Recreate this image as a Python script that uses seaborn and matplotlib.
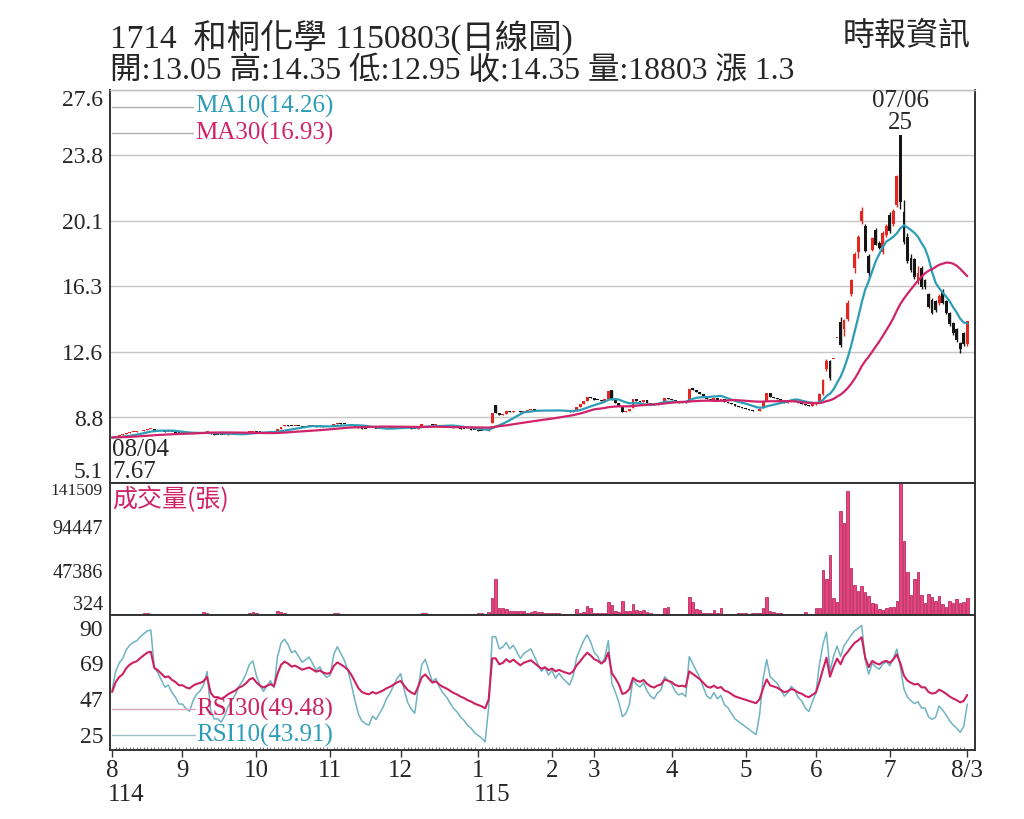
import numpy as np
import pandas as pd
import seaborn as sns
import matplotlib.pyplot as plt
import matplotlib.transforms as mtransforms

sns.set_theme(style="white")
plt.rcParams['font.family'] = ['Liberation Serif', 'Noto Sans CJK TC', 'DejaVu Sans']
plt.rcParams['axes.unicode_minus'] = False

# trading days per month, 2025/08/04 .. 2026/08/03 (ROC 114 / 115)
month_labels = ['8', '9', '10', '11', '12', '1', '2', '3', '4', '5', '6', '7', '8/3']
month_days = [20, 21, 21, 20, 22, 21, 12, 22, 21, 20, 21, 22, 1]
year_labels = {0: '114', 5: '115'}

# closes before 08/04, not drawn, only used to warm up MA / RSI
close_warmup = [7.70, 7.66, 7.70, 7.73, 7.69, 7.72, 7.68, 7.71, 7.74, 7.70,
                7.72, 7.75, 7.71, 7.68, 7.72, 7.70, 7.74, 7.70, 7.72, 7.68,
                7.71, 7.74, 7.70, 7.72, 7.69, 7.73, 7.70, 7.72, 7.68, 7.70]

# daily open / close
open_aug = [7.70, 7.73, 7.80, 7.86, 7.88, 7.95, 8.00, 8.03, 8.05, 8.10,
            8.15, 8.20, 8.20, 8.10, 8.08, 8.05, 8.02, 8.03, 8.00, 7.98]
close_aug = [7.72, 7.80, 7.85, 7.88, 7.95, 8.00, 8.03, 8.05, 8.10, 8.15,
             8.20, 8.22, 8.10, 8.08, 8.05, 8.02, 8.03, 8.00, 7.98, 7.95]
open_sep = [7.95, 7.95, 7.93, 7.92, 7.95, 7.97, 7.98, 8.00, 8.03, 7.90,
            7.86, 7.85, 7.83, 7.85, 7.88, 7.90, 7.92, 7.95, 7.97, 8.00, 8.03]
close_sep = [7.95, 7.93, 7.92, 7.95, 7.97, 7.98, 8.00, 8.05, 7.90, 7.85,
             7.85, 7.83, 7.85, 7.88, 7.90, 7.92, 7.95, 7.97, 8.00, 8.05, 8.07]
open_oct = [8.07, 8.03, 8.00, 7.98, 8.00, 8.02, 8.02, 8.20, 8.35, 8.40,
            8.38, 8.35, 8.37, 8.35, 8.33, 8.35, 8.37, 8.35, 8.33, 8.35, 8.33]
close_oct = [8.03, 8.00, 7.98, 8.00, 8.02, 8.00, 8.17, 8.33, 8.40, 8.38,
             8.35, 8.37, 8.35, 8.33, 8.35, 8.37, 8.35, 8.33, 8.35, 8.33, 8.32]
open_nov = [8.32, 8.35, 8.45, 8.52, 8.50, 8.48, 8.45, 8.40, 8.33, 8.25,
            8.20, 8.18, 8.17, 8.20, 8.18, 8.20, 8.22, 8.25, 8.27, 8.30]
close_nov = [8.33, 8.45, 8.52, 8.50, 8.48, 8.45, 8.40, 8.33, 8.25, 8.20,
             8.18, 8.17, 8.20, 8.18, 8.20, 8.22, 8.25, 8.27, 8.30, 8.33]
open_dec = [8.33, 8.35, 8.30, 8.25, 8.22, 8.20, 8.32, 8.45, 8.50, 8.45,
            8.40, 8.42, 8.38, 8.35, 8.33, 8.30, 8.27, 8.25, 8.22, 8.20, 8.17, 8.15]
close_dec = [8.35, 8.30, 8.25, 8.22, 8.20, 8.30, 8.45, 8.50, 8.45, 8.40,
             8.42, 8.38, 8.35, 8.33, 8.30, 8.27, 8.25, 8.22, 8.20, 8.17, 8.15, 8.12]
open_jan = [8.12, 8.10, 8.08, 8.05, 8.55, 9.55, 9.10, 9.00, 9.05, 9.20,
            9.15, 9.25, 9.20, 9.15, 9.25, 9.30, 9.35, 9.30, 9.25, 9.20, 9.25]
close_jan = [8.10, 8.08, 8.05, 8.15, 9.10, 9.10, 9.00, 9.05, 9.20, 9.15,
             9.25, 9.20, 9.15, 9.25, 9.30, 9.35, 9.30, 9.25, 9.20, 9.25, 9.20]
open_feb = [9.20, 9.25, 9.20, 9.25, 9.22, 9.20, 9.18, 9.25, 9.45, 9.60, 9.80, 10.00]
close_feb = [9.25, 9.20, 9.25, 9.22, 9.20, 9.18, 9.25, 9.45, 9.60, 9.80, 10.00, 9.95]
open_mar = [9.95, 9.88, 9.85, 9.80, 9.92, 10.45, 9.85, 9.70, 9.50, 9.15,
            9.20, 9.40, 9.90, 9.80, 9.75, 9.85, 9.70, 9.60, 9.55, 9.65, 9.72, 9.95]
close_mar = [9.88, 9.85, 9.80, 9.90, 10.35, 9.85, 9.70, 9.50, 9.15, 9.20,
             9.35, 9.90, 9.80, 9.75, 9.85, 9.70, 9.60, 9.55, 9.65, 9.70, 9.95, 9.90]
open_apr = [9.90, 9.85, 9.75, 9.70, 9.72, 9.75, 10.55, 10.40, 10.30, 10.20,
            10.05, 9.90, 9.85, 9.95, 9.85, 9.90, 9.75, 9.70, 9.60, 9.50, 9.45]
close_apr = [9.85, 9.75, 9.70, 9.72, 9.68, 10.50, 10.40, 10.30, 10.20, 10.05,
             9.90, 9.85, 9.95, 9.85, 9.90, 9.75, 9.70, 9.60, 9.50, 9.45, 9.40]
open_may = [9.40, 9.35, 9.30, 9.25, 9.20, 9.40, 9.80, 10.25, 10.00, 9.95,
            9.90, 9.80, 9.70, 9.75, 9.85, 9.80, 9.70, 9.65, 9.55, 9.50]
close_may = [9.35, 9.30, 9.25, 9.20, 9.35, 9.80, 10.25, 10.00, 9.95, 9.90,
             9.80, 9.70, 9.75, 9.85, 9.80, 9.70, 9.65, 9.55, 9.50, 9.60]
open_jun = [9.60, 9.80, 10.20, 11.60, 12.10, 12.20, 13.40, 14.30, 13.90, 14.50,
            15.90, 17.40, 18.30, 20.10, 19.80, 18.10, 18.45, 19.60, 18.85, 18.30, 19.30]
close_jun = [9.70, 10.20, 11.00, 12.10, 11.10, 12.20, 13.40, 13.00, 14.45, 15.40,
             16.70, 18.20, 19.20, 20.70, 18.40, 17.10, 19.10, 18.75, 18.55, 19.40, 19.80]
open_jul = [20.45, 19.90, 21.00, 25.00, 20.60, 19.20, 18.00, 17.90, 16.70, 17.40,
            16.70, 15.90, 15.60, 15.50, 15.40, 16.05, 15.50, 14.85, 14.25, 13.90, 13.10, 13.70]
close_jul = [19.50, 20.70, 22.70, 21.20, 18.90, 17.80, 17.30, 16.90, 17.10, 16.30,
             16.30, 15.20, 14.85, 15.00, 15.80, 15.40, 14.85, 14.20, 13.70, 13.30, 12.75, 13.05]
open_aug2 = [13.05]
close_aug2 = [14.35]

# wicks are only readable from June on
high_jun_aug = [9.75, 10.25, 11.05, 12.20, 12.15, 12.20, 13.40, 14.60, 14.50, 15.60,
                16.80, 18.30, 19.30, 20.90, 19.90, 18.20, 19.20, 19.70, 18.95, 19.50, 19.90,
                20.60, 20.80, 22.75, 25.00, 21.30, 19.40, 18.20, 18.00, 17.50, 17.50,
                16.80, 16.00, 15.70, 15.60, 15.90, 16.20, 15.60, 14.90, 14.30, 13.95, 13.15, 13.75,
                14.35]
low_jun_aug = [9.55, 9.75, 10.15, 11.50, 11.00, 12.20, 13.40, 12.90, 13.50, 14.40,
               15.80, 17.10, 18.00, 19.90, 18.30, 16.90, 18.40, 18.70, 18.50, 18.20, 19.20,
               19.40, 19.80, 20.90, 20.80, 18.80, 17.70, 17.20, 16.80, 16.50, 16.20,
               16.20, 15.10, 14.80, 14.90, 15.30, 15.35, 14.80, 14.10, 13.55, 13.20, 12.55, 12.95,
               12.95]

# daily volume (張)
vol_aug = [900, 1200, 1500, 1300, 1400, 1600, 1800, 1500, 1700, 2000,
           2400, 1900, 1600, 1300, 1200, 1100, 1000, 1200, 1000, 900]
vol_sep = [800, 900, 1000, 900, 1100, 1200, 3500, 2200, 1800, 1300,
           1000, 900, 800, 900, 1000, 1100, 1300, 1500, 1800, 2800, 3900]
vol_oct = [2400, 1500, 1200, 1100, 1300, 1200, 4600, 3500, 2600, 1800,
           1500, 1300, 1100, 1200, 1000, 1100, 1300, 1200, 1000, 900, 1000]
vol_nov = [1200, 2400, 2800, 1900, 1500, 1300, 1400, 1600, 1500, 1200,
           1000, 900, 1000, 1100, 1000, 1200, 1300, 1400, 1500, 1600]
vol_dec = [1400, 1200, 1100, 1000, 1100, 1600, 2100, 2400, 1800, 1500,
           1300, 1200, 1100, 1000, 900, 1000, 1100, 1200, 1300, 1500, 1700, 1900]
vol_jan = [2000, 2200, 1800, 3000, 18200, 38900, 8200, 7500, 6400, 4600,
           4400, 4500, 4300, 4600, 2100, 3500, 4600, 4000, 3800, 2300, 2000]
vol_feb = [2500, 2200, 2000, 600, 500, 500, 600, 6400, 2100, 3900, 10300, 7500]
vol_mar = [2500, 2300, 2600, 2400, 13900, 11000, 4600, 3200, 15300, 4600,
           4600, 11800, 5700, 4600, 5700, 3200, 2100, 1500, 1400, 1600, 8200, 9300]
vol_apr = [1500, 1400, 1600, 1500, 1800, 19300, 13900, 6400, 5700, 2500,
           2400, 2600, 5700, 2100, 7500, 1800, 1700, 1900, 1800, 2100, 2000]
vol_may = [2100, 1500, 2000, 2700, 2700, 7500, 20000, 4600, 3000, 2500,
           2000, 1800, 1500, 1700, 1600, 1500, 1400, 3200, 1500, 1800]
vol_jun = [7500, 8200, 48600, 38600, 64700, 18200, 13900, 111100, 98600, 133300,
           50400, 32500, 26100, 31400, 25300, 20700, 12900, 11800, 6400, 5700, 8200]
vol_jul = [9300, 9300, 15700, 141509, 79000, 46800, 21800, 38600, 46100, 21800,
           13600, 22500, 20000, 15700, 20700, 12100, 9300, 15700, 12900, 17500, 12900, 14600]
vol_aug2 = [18803]

price_ticks = [5.1, 8.85, 12.6, 16.35, 20.1, 23.85, 27.6]
price_labels = ['5.1', '8.8', '12.6', '16.3', '20.1', '23.8', '27.6']
vol_ticks = [324, 47386, 94447, 141509]
rsi_ticks = [25, 47, 69, 90]

opn = np.array(open_aug + open_sep + open_oct + open_nov + open_dec + open_jan + open_feb
               + open_mar + open_apr + open_may + open_jun + open_jul + open_aug2)
close = np.array(close_aug + close_sep + close_oct + close_nov + close_dec + close_jan + close_feb
                 + close_mar + close_apr + close_may + close_jun + close_jul + close_aug2)
vol = np.array(vol_aug + vol_sep + vol_oct + vol_nov + vol_dec + vol_jan + vol_feb
               + vol_mar + vol_apr + vol_may + vol_jun + vol_jul + vol_aug2)
n = len(close)
idx = np.arange(n)

high = np.maximum(opn, close)
low = np.minimum(opn, close)
high[-len(high_jun_aug):] = high_jun_aug
low[-len(low_jun_aug):] = low_jun_aug

# indicators
full = pd.Series(close_warmup + list(close))
k = len(close_warmup)
ma10 = full.rolling(10).mean().iloc[k:].values
ma30 = full.rolling(30).mean().iloc[k:].values


def rsi(s, period):
    d = s.diff()
    up = d.clip(lower=0).ewm(alpha=1 / period, adjust=True).mean()
    dn = (-d.clip(upper=0)).ewm(alpha=1 / period, adjust=True).mean()
    return (100 * up / (up + dn)).iloc[k:].values


rsi10 = rsi(full, 10)
rsi30 = rsi(full, 30)

# colours
c_up = '#e3261f'
c_dn = '#151515'
c_ma10 = '#2d9cb6'
c_ma30 = '#d0246a'
c_vol = '#e8457f'
c_vol_edge = '#b01450'
c_rsi10 = '#6fb3c2'
c_rsi30 = '#cc2262'

fig = plt.figure(figsize=(10.24, 8.19), dpi=100)
L, W = 110 / 1024, 865 / 1024
ax = fig.add_axes([L, 1 - 483 / 819, W, 393 / 819])
ax_v = fig.add_axes([L, 1 - 615 / 819, W, 132 / 819], sharex=ax)
ax_r = fig.add_axes([L, 1 - 750 / 819, W, 135 / 819], sharex=ax)

# candles
cols = np.where(close >= opn, c_up, c_dn)
ax.vlines(idx, low, high, colors=cols, linewidth=1.0, zorder=3)
body_h = np.maximum(np.abs(close - opn), 0.05)
ax.bar(idx, body_h, bottom=np.minimum(opn, close), width=0.8, color=cols, linewidth=0, zorder=4)
sns.lineplot(x=idx, y=ma10, ax=ax, color=c_ma10, linewidth=1.6, zorder=5)
sns.lineplot(x=idx, y=ma30, ax=ax, color=c_ma30, linewidth=1.6, zorder=5)

ax.set_ylim(5.1, 27.6)
ax.set_yticks(price_ticks)
ax.set_yticklabels(price_labels)
ax.grid(axis='y', color='#c6c6c6', linewidth=1.0)
ax.grid(axis='x', visible=False)

# MA legend
ax.plot([0.002, 0.096], [0.957, 0.957], transform=ax.transAxes, color='#b0b0b0', lw=1.0)
ax.plot([0.002, 0.096], [0.890, 0.890], transform=ax.transAxes, color='#b0b0b0', lw=1.0)
ax.text(0.098, 0.957, 'MA10(14.26)', transform=ax.transAxes, color=c_ma10, fontsize=18, va='center')
ax.text(0.098, 0.890, 'MA30(16.93)', transform=ax.transAxes, color=c_ma30, fontsize=18, va='center')

# high / low marks
pk = int(np.argmax(high))
ax.annotate('07/06\n25', xy=(pk, high[pk]), xytext=(0, 1), textcoords='offset points',
            ha='center', va='bottom', fontsize=18, linespacing=1.0)
ax.annotate('08/04\n7.67', xy=(0, 7.67), xytext=(0, -1), textcoords='offset points',
            ha='left', va='top', fontsize=18, linespacing=1.0)

# volume
ax_v.bar(idx, vol, width=0.72, color=c_vol, edgecolor=c_vol_edge, linewidth=0.5)
ax_v.set_ylim(324, 141509)
ax_v.set_yticks(vol_ticks)
ax_v.set_yticklabels([str(v) for v in vol_ticks])
ax_v.text(0.003, 0.87, '成交量(張)', transform=ax_v.transAxes, color=c_ma30, fontsize=18,
          va='center', family=['Noto Sans CJK TC'])

# RSI
sns.lineplot(x=idx, y=rsi10, ax=ax_r, color=c_rsi10, linewidth=1.1)
sns.lineplot(x=idx, y=rsi30, ax=ax_r, color=c_rsi30, linewidth=1.5)
ax_r.set_ylim(16, 98)
ax_r.set_yticks(rsi_ticks)
ax_r.plot([0.002, 0.098], [0.304, 0.304], transform=ax_r.transAxes, color='#dba6b6', lw=1.0)
ax_r.plot([0.002, 0.098], [0.111, 0.111], transform=ax_r.transAxes, color='#9dbfc8', lw=1.0)
ax_r.text(0.1, 0.304, 'RSI30(49.48)', transform=ax_r.transAxes, color=c_rsi30, fontsize=18, va='center')
ax_r.text(0.1, 0.111, 'RSI10(43.91)', transform=ax_r.transAxes, color=c_ma10, fontsize=18, va='center')

# x axis
starts = np.concatenate([[0], np.cumsum(month_days)[:-1]])
ax.set_xlim(-0.6, 245.2)
ax_r.set_xticks(starts)
ax_r.set_xticklabels(month_labels)
ax_r.set_xticks(idx, minor=True)
ax_r.tick_params(axis='x', which='major', length=5, width=1.0, direction='out', labelsize=18,
                 pad=2, color='#333333', bottom=True)
ax_r.tick_params(axis='x', which='minor', length=2.5, width=0.6, direction='in', color='#555555', bottom=True)
blend = mtransforms.blended_transform_factory(ax_r.transData, ax_r.transAxes)
for m, lab in year_labels.items():
    ax_r.text(starts[m] - 1.1, -0.335, lab, transform=blend, fontsize=18, ha='left', va='center')

for a, size in ((ax, 17), (ax_v, 14.5), (ax_r, 17)):
    a.tick_params(axis='y', length=0, labelsize=size, pad=5)
    for s in a.spines.values():
        s.set_color('#333333')
        s.set_linewidth(1.4)
    a.set_xlabel('')
    a.set_ylabel('')
ax.spines['top'].set_color('#bdbdbd')
ax.spines['top'].set_linewidth(1.0)
ax.tick_params(axis='x', bottom=False, labelbottom=False)
ax_v.tick_params(axis='x', bottom=False, labelbottom=False)

# push the end tick labels inside their panel
for a in (ax, ax_v):
    labs = a.get_yticklabels()
    labs[0].set_va('bottom')
    labs[-1].set_va('top')
ax_v.get_yticklabels()[-1].set_fontsize(12.5)

# header
fig.text(0.107, 0.955, '1714  和桐化學 1150803(日線圖)', fontsize=24, va='center')
fig.text(0.107, 0.913, '開:13.05 高:14.35 低:12.95 收:14.35 量:18803 漲 1.3', fontsize=22.8, va='center')
fig.text(0.948, 0.955, '時報資訊', fontsize=23, va='center', ha='right')

fig.savefig('out.png', dpi=100, facecolor='white')
